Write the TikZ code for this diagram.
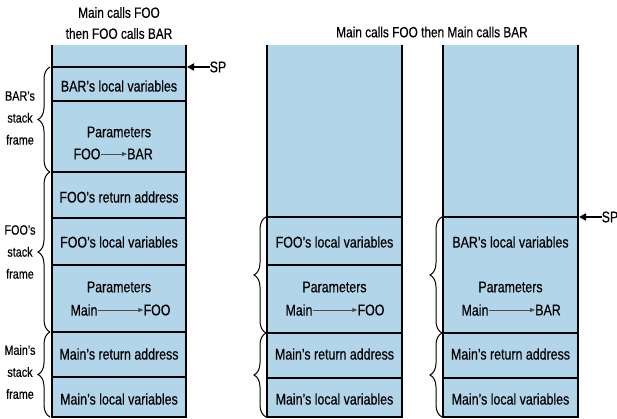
\documentclass[tikz,border=0pt]{standalone}
\usepackage{fontspec}
\setmainfont{Liberation Sans}[FakeStretch=0.8,FakeBold=0.4]
\usepackage{tikz}
\usetikzlibrary{arrows.meta}
\usetikzlibrary{positioning,decorations.pathreplacing}
\usepackage{xcolor}
\definecolor{stackblue}{RGB}{179,213,234}
\tikzset{
  wall/.style={line width=1.7pt},
  divider/.style={line width=1.3pt},
  txt/.style={font=\fontsize{15.5}{23}\selectfont, inner sep=0pt, align=center},
  head/.style={font=\fontsize{14.8}{21}\selectfont, inner sep=0pt, align=center},
  side/.style={font=\fontsize{13.5}{22}\selectfont, inner sep=0pt, align=center},
  pass/.style={draw=black!70, line width=0.8pt, -{Triangle[length=5pt,width=4pt]}},
  sparrow/.style={line width=1.7pt, -{Triangle[length=7pt,width=7pt]}},
  framebrace/.style={decorate, decoration={brace, amplitude=12pt}, line width=1pt}
}

\begin{document}
\begin{tikzpicture}[x=1pt,y=-1pt]
      \useasboundingbox (0,0) rectangle (617,419);
      \foreach \l/\r in {52/186, 267/402, 443/578} {
        \fill[stackblue] (\l,45) rectangle (\r,417);
        \draw[wall] (\l,45) -- (\l,417) -- (\r,417) -- (\r,45);
      }
      \foreach \y in {67,101,172,218,265,332,377}
        \draw[divider] (52,\y) -- (186,\y);
      \foreach \y in {217,265,333,378}
        \draw[divider] (267,\y) -- (402,\y);
      \foreach \y in {217,333,378}
        \draw[divider] (443,\y) -- (578,\y);

      \node[head] (title1) at (119,23) {Main calls FOO\\then FOO calls BAR};
      \node[head] (title2) at (432,32) {Main calls FOO then Main calls BAR};

      \node[txt] (barloc) at (119,86) {BAR’s local variables};
      \node[txt] (barpar) at (119,132) {Parameters};
      \node[txt] (foo1) at (87,154) {FOO};
      \node[txt] (bar1) at (140,154) {BAR};
      \draw[pass] (foo1) -- (bar1);
      \node[txt] (fooret) at (119,197) {FOO’s return address};
      \node[txt] (fooloc) at (119,242) {FOO’s local variables};
      \node[txt] (foopar) at (119,287) {Parameters};
      \node[txt] (main1) at (84,310) {Main};
      \node[txt] (foo2) at (157,310) {FOO};
      \draw[pass] (main1) -- (foo2);
      \node[txt] (mainret1) at (119,354) {Main’s return address};
      \node[txt] (mainloc1) at (119,399) {Main’s local variables};

      \node[txt] (fooloc2) at (334.5,242) {FOO’s local variables};
      \node[txt] (foopar2) at (334.5,287) {Parameters};
      \node[txt] (main2) at (299,310) {Main};
      \node[txt] (foo3) at (371,310) {FOO};
      \draw[pass] (main2) -- (foo3);
      \node[txt] (mainret2) at (334.5,354) {Main’s return address};
      \node[txt] (mainloc2) at (334.5,399) {Main’s local variables};

      \node[txt] (barloc3) at (510.5,242) {BAR’s local variables};
      \node[txt] (barpar3) at (510.5,287) {Parameters};
      \node[txt] (main3) at (475,310) {Main};
      \node[txt] (bar3) at (548,310) {BAR};
      \draw[pass] (main3) -- (bar3);
      \node[txt] (mainret3) at (510.5,354) {Main’s return address};
      \node[txt] (mainloc3) at (510.5,399) {Main’s local variables};

      \node[txt] (sp1) at (218,67) {SP};
      \coordinate (top1) at (187,67);
      \draw[sparrow] (sp1.west) -- (top1);
      \node[txt] (sp3) at (610,217) {SP};
      \coordinate (top3) at (579,217);
      \draw[sparrow] (sp3.west) -- (top3);

      \draw[framebrace] (50,172) -- (50,67);
      \draw[framebrace] (50,332) -- (50,172);
      \draw[framebrace] (50,417) -- (50,332);
      \draw[framebrace] (266,333) -- (266,217);
      \draw[framebrace] (266,417) -- (266,333);
      \draw[framebrace] (442,333) -- (442,217);
      \draw[framebrace] (442,417) -- (442,333);
      \node[side] (barframe) at (20,118) {BAR’s\\stack\\frame};
      \node[side] (fooframe) at (20,252) {FOO’s\\stack\\frame};
      \node[side] (mainframe) at (20,372) {Main’s\\stack\\frame};
    \end{tikzpicture}
\end{document}
